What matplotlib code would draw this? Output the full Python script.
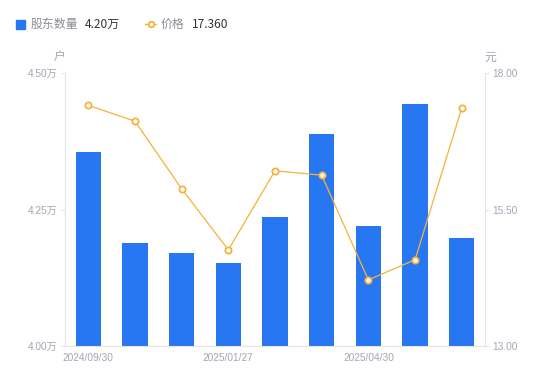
import numpy as np
import matplotlib.pyplot as plt

dates = ["2024/09/30", "", "", "2025/01/27", "", "", "2025/04/30", "", ""]
holders = [4.355, 4.189, 4.170, 4.152, 4.236, 4.388, 4.220, 4.443, 4.198]  # 万户
price = [17.41, 17.12, 15.88, 14.76, 16.21, 16.13, 14.21, 14.58, 17.36]

blue = "#2777f3"
orange = "#f6b23a"
grey_txt = "#a3a6b4"
axis_col = "#e3e4e8"
num_font = ["Liberation Sans", "Noto Sans CJK SC"]

plt.rcParams['font.family'] = ['Noto Sans CJK SC', 'DejaVu Sans']

fig = plt.figure(figsize=(5.5, 3.81), dpi=100)
ax = fig.add_axes([0.118, 0.092, 0.764, 0.716])
ax2 = ax.twinx()

x = np.arange(len(holders))
ax.bar(x, holders, width=0.54, color=blue, zorder=2)
ax.set_xlim(-0.5, len(holders) - 0.5)
ax.set_ylim(4.0, 4.5)
ax.set_yticks([4.0, 4.25, 4.5])
ax.set_yticklabels(["4.00万", "4.25万", "4.50万"], family=num_font)

ax2.plot(x, price, color=orange, lw=0.9, marker="o", ms=4.5,
         mfc="white", mec=orange, mew=1.3, zorder=3)
ax2.set_ylim(13, 18)
ax2.set_yticks([13, 15.5, 18])
ax2.set_yticklabels(["13.00", "15.50", "18.00"], family=num_font)

ax.set_xticks(x)
ax.set_xticklabels(dates, family=num_font)

for a in (ax, ax2):
    for s in a.spines.values():
        s.set_visible(False)
    a.tick_params(axis="y", colors=grey_txt, labelsize=7.3, length=3, width=0.8, pad=2)
    a.tick_params(axis="y", color=axis_col)
ax.spines["left"].set_visible(True)
ax.spines["left"].set_color(axis_col)
ax.spines["bottom"].set_visible(True)
ax.spines["bottom"].set_color(axis_col)
ax2.spines["right"].set_visible(True)
ax2.spines["right"].set_color(axis_col)
ax.tick_params(axis="x", length=0, colors=grey_txt, labelsize=7.3, pad=5)

fig.text(59 / 550, 1 - 57 / 381, "户", color=grey_txt, fontsize=8.5, ha="center", va="center")
fig.text(490 / 550, 1 - 57 / 381, "元", color=grey_txt, fontsize=8.5, ha="center", va="center")

# legend
ly = 1 - 24 / 381
fig.patches.append(plt.Rectangle((16 / 550, ly - 4.5 / 381), 9 / 550, 9 / 381,
                                 transform=fig.transFigure, color=blue))
fig.text(31 / 550, ly, "股东数量", color="#8a8d99", fontsize=8.6, va="center")
fig.text(85 / 550, ly, "4.20万", color="#333333", fontsize=8.6, va="center")
fig.lines.append(plt.Line2D([145 / 550, 156 / 550], [ly, ly], transform=fig.transFigure,
                            color=orange, lw=1))
fig.lines.append(plt.Line2D([150.5 / 550], [ly], transform=fig.transFigure,
                            color=orange, marker="o", ms=4, mfc="white", mew=1.3))
fig.text(161 / 550, ly, "价格", color="#8a8d99", fontsize=8.6, va="center")
fig.text(192 / 550, ly, "17.360", color="#333333", fontsize=8.6, va="center")

fig.savefig("out.png", dpi=100)
